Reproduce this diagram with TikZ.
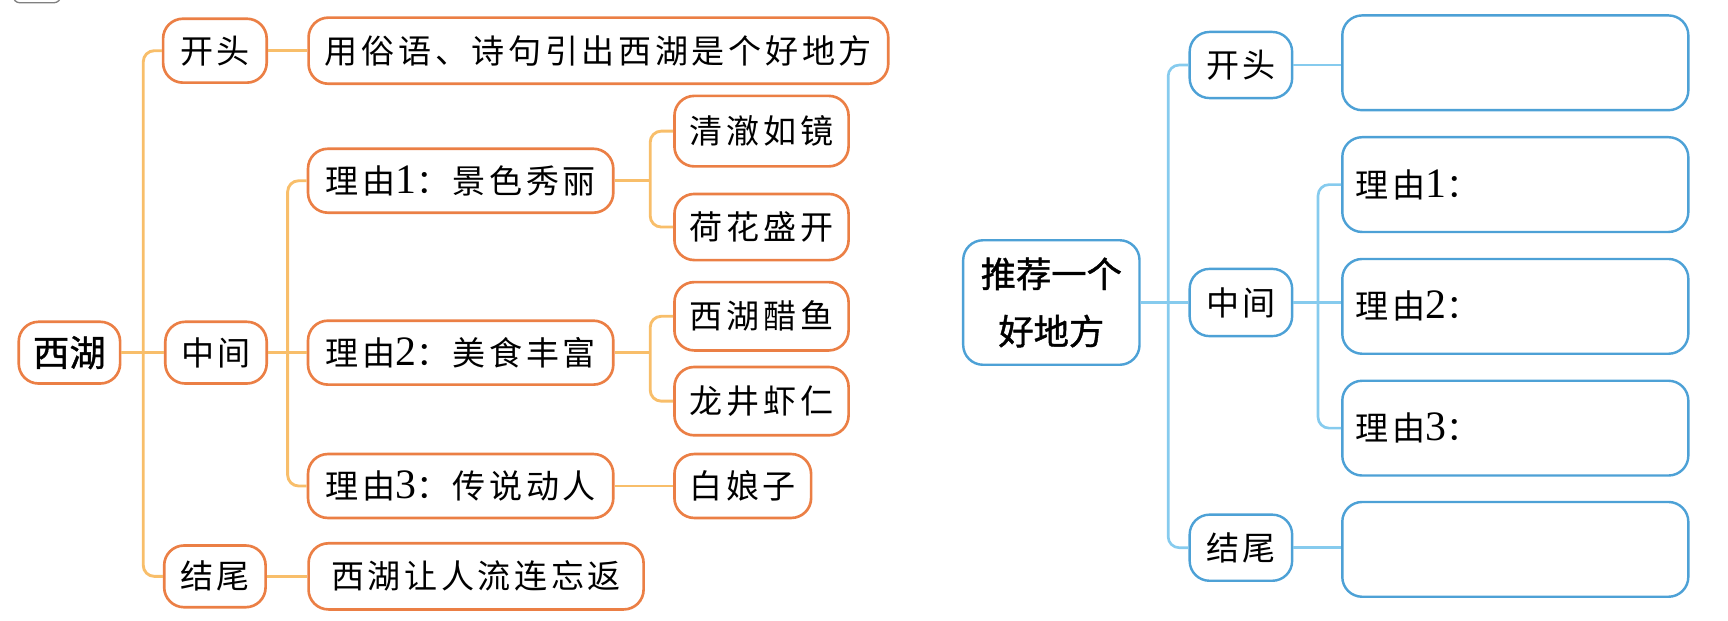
\documentclass[tikz,border=0pt]{standalone}
\usepackage{fontspec}
\setmainfont{Liberation Serif}
\newfontfamily\kai[LetterSpace=11]{Noto Sans CJK SC}
\newfontfamily\hei[FakeBold=1.2]{Noto Sans CJK SC}
\newcommand\nm[1]{{\rmfamily\fontsize{38}{34}\selectfont #1}}
\definecolor{ob}{HTML}{EB7F45}
\definecolor{ol}{HTML}{F8BE6A}
\definecolor{bb}{HTML}{4DA1D6}
\definecolor{bl}{HTML}{86CBEE}
\tikzset{
  obox/.style={draw=ob, line width=2.4pt, rounded corners=18pt, fill=white, inner sep=0pt,
    font=\kai\fontsize{30}{34}\selectfont, text=black},
  bbox/.style={draw=bb, line width=2.2pt, rounded corners=18pt, fill=white, inner sep=0pt,
    font=\kai\fontsize{30}{34}\selectfont, text=black},
  oline/.style={draw=ol, line width=2.6pt, rounded corners=10pt},
  bline/.style={draw=bl, line width=2.4pt, rounded corners=10pt},
}
\begin{document}
\begin{tikzpicture}[x=1pt, y=-1pt]
\useasboundingbox (0,0) rectangle (1568,563.5);
% cut-off box at the top-left edge
\draw[gray, line width=1.2pt, rounded corners=6pt] (12,-20) rectangle (55,2.5);

% ---------- left tree ----------
\coordinate (tr1) at (130,0);
\coordinate (tr2) at (261,0);
\coordinate (tr3) at (590,0);
\node[obox, minimum width=92pt, minimum height=56pt, font=\hei\fontsize{33}{34}\selectfont] (xihu) at (63,320) {西湖};
\node[obox, minimum width=94pt, minimum height=58pt] (kt1) at (195,46) {开头};
\node[obox, minimum width=526pt, minimum height=60pt] (t0) at (543,46) {用俗语、诗句引出西湖是个好地方};
\node[obox, minimum width=92pt, minimum height=56pt] (zj1) at (196,320) {中间};
\node[obox, minimum width=92pt, minimum height=56pt] (jw1) at (195,523) {结尾};
\node[obox, minimum width=277pt, minimum height=58pt] (r1) at (418,164) {理由\nm{1}：景色秀丽};
\node[obox, minimum width=277pt, minimum height=58pt] (r2) at (418,320) {理由\nm{2}：美食丰富};
\node[obox, minimum width=277pt, minimum height=58pt] (r3) at (418,441) {理由\nm{3}：传说动人};
\node[obox, minimum width=158pt, minimum height=64pt] (l1) at (691,119) {清澈如镜};
\node[obox, minimum width=158pt, minimum height=60pt] (l2) at (691,206) {荷花盛开};
\node[obox, minimum width=158pt, minimum height=62pt] (l3) at (691,287) {西湖醋鱼};
\node[obox, minimum width=158pt, minimum height=62pt] (l4) at (691,364) {龙井虾仁};
\node[obox, minimum width=124pt, minimum height=58pt] (l5) at (674,441) {白娘子};
\node[obox, minimum width=304pt, minimum height=60pt] (t4) at (432,523) {西湖让人流连忘返};

\draw[oline] (kt1.west) -- (kt1.west -| tr1) |- (jw1.west);
\draw[oline] (xihu.east) -- (zj1.west);
\draw[oline] (kt1.east) -- (t0.west);
\draw[oline] (jw1.east) -- (t4.west);
\draw[oline] (r1.west) -- (r1.west -| tr2) |- (r3.west);
\draw[oline] (zj1.east) -- (r2.west);
\draw[oline] (l1.west) -- (l1.west -| tr3) |- (l2.west);
\draw[oline] (r1.east) -- (r1.east -| tr3);
\draw[oline] (l3.west) -- (l3.west -| tr3) |- (l4.west);
\draw[oline] (r2.east) -- (r2.east -| tr3);
\draw[oline] (r3.east) -- (l5.west);

% ---------- right tree ----------
\coordinate (tr4) at (1060,0);
\coordinate (tr5) at (1196,0);
\node[bbox, minimum width=160pt, minimum height=113pt, align=center,
      font=\hei\fontsize{32}{52}\selectfont] (tj) at (954,274.5) {推荐一个\\好地方};
\node[bbox, minimum width=93pt, minimum height=60pt] (kt2) at (1126,59) {开头};
\node[bbox, minimum width=93pt, minimum height=61pt] (zj2) at (1126,274.5) {中间};
\node[bbox, minimum width=93pt, minimum height=60pt] (jw2) at (1126,497) {结尾};
\node[bbox, minimum width=314pt, minimum height=86pt] (b0) at (1375,57) {};
\node[bbox, minimum width=314pt, minimum height=86pt, text width=290pt, align=left] (b1) at (1375,167.5) {理由\nm{1}：};
\node[bbox, minimum width=314pt, minimum height=86pt, text width=290pt, align=left] (b2) at (1375,278) {理由\nm{2}：};
\node[bbox, minimum width=314pt, minimum height=86pt, text width=290pt, align=left] (b3) at (1375,388.5) {理由\nm{3}：};
\node[bbox, minimum width=314pt, minimum height=86pt] (b4) at (1375,498.5) {};

\draw[bline] (kt2.west) -- (kt2.west -| tr4) |- (jw2.west);
\draw[bline] (tj.east) -- (zj2.west);
\draw[bline] (kt2.east) -- (kt2.east -| b0.west);
\draw[bline] (b1.west) -- (b1.west -| tr5) |- (b3.west);
\draw[bline] (zj2.east) -- (zj2.east -| b2.west);
\draw[bline] (jw2.east) -- (jw2.east -| b4.west);
\end{tikzpicture}
\end{document}
